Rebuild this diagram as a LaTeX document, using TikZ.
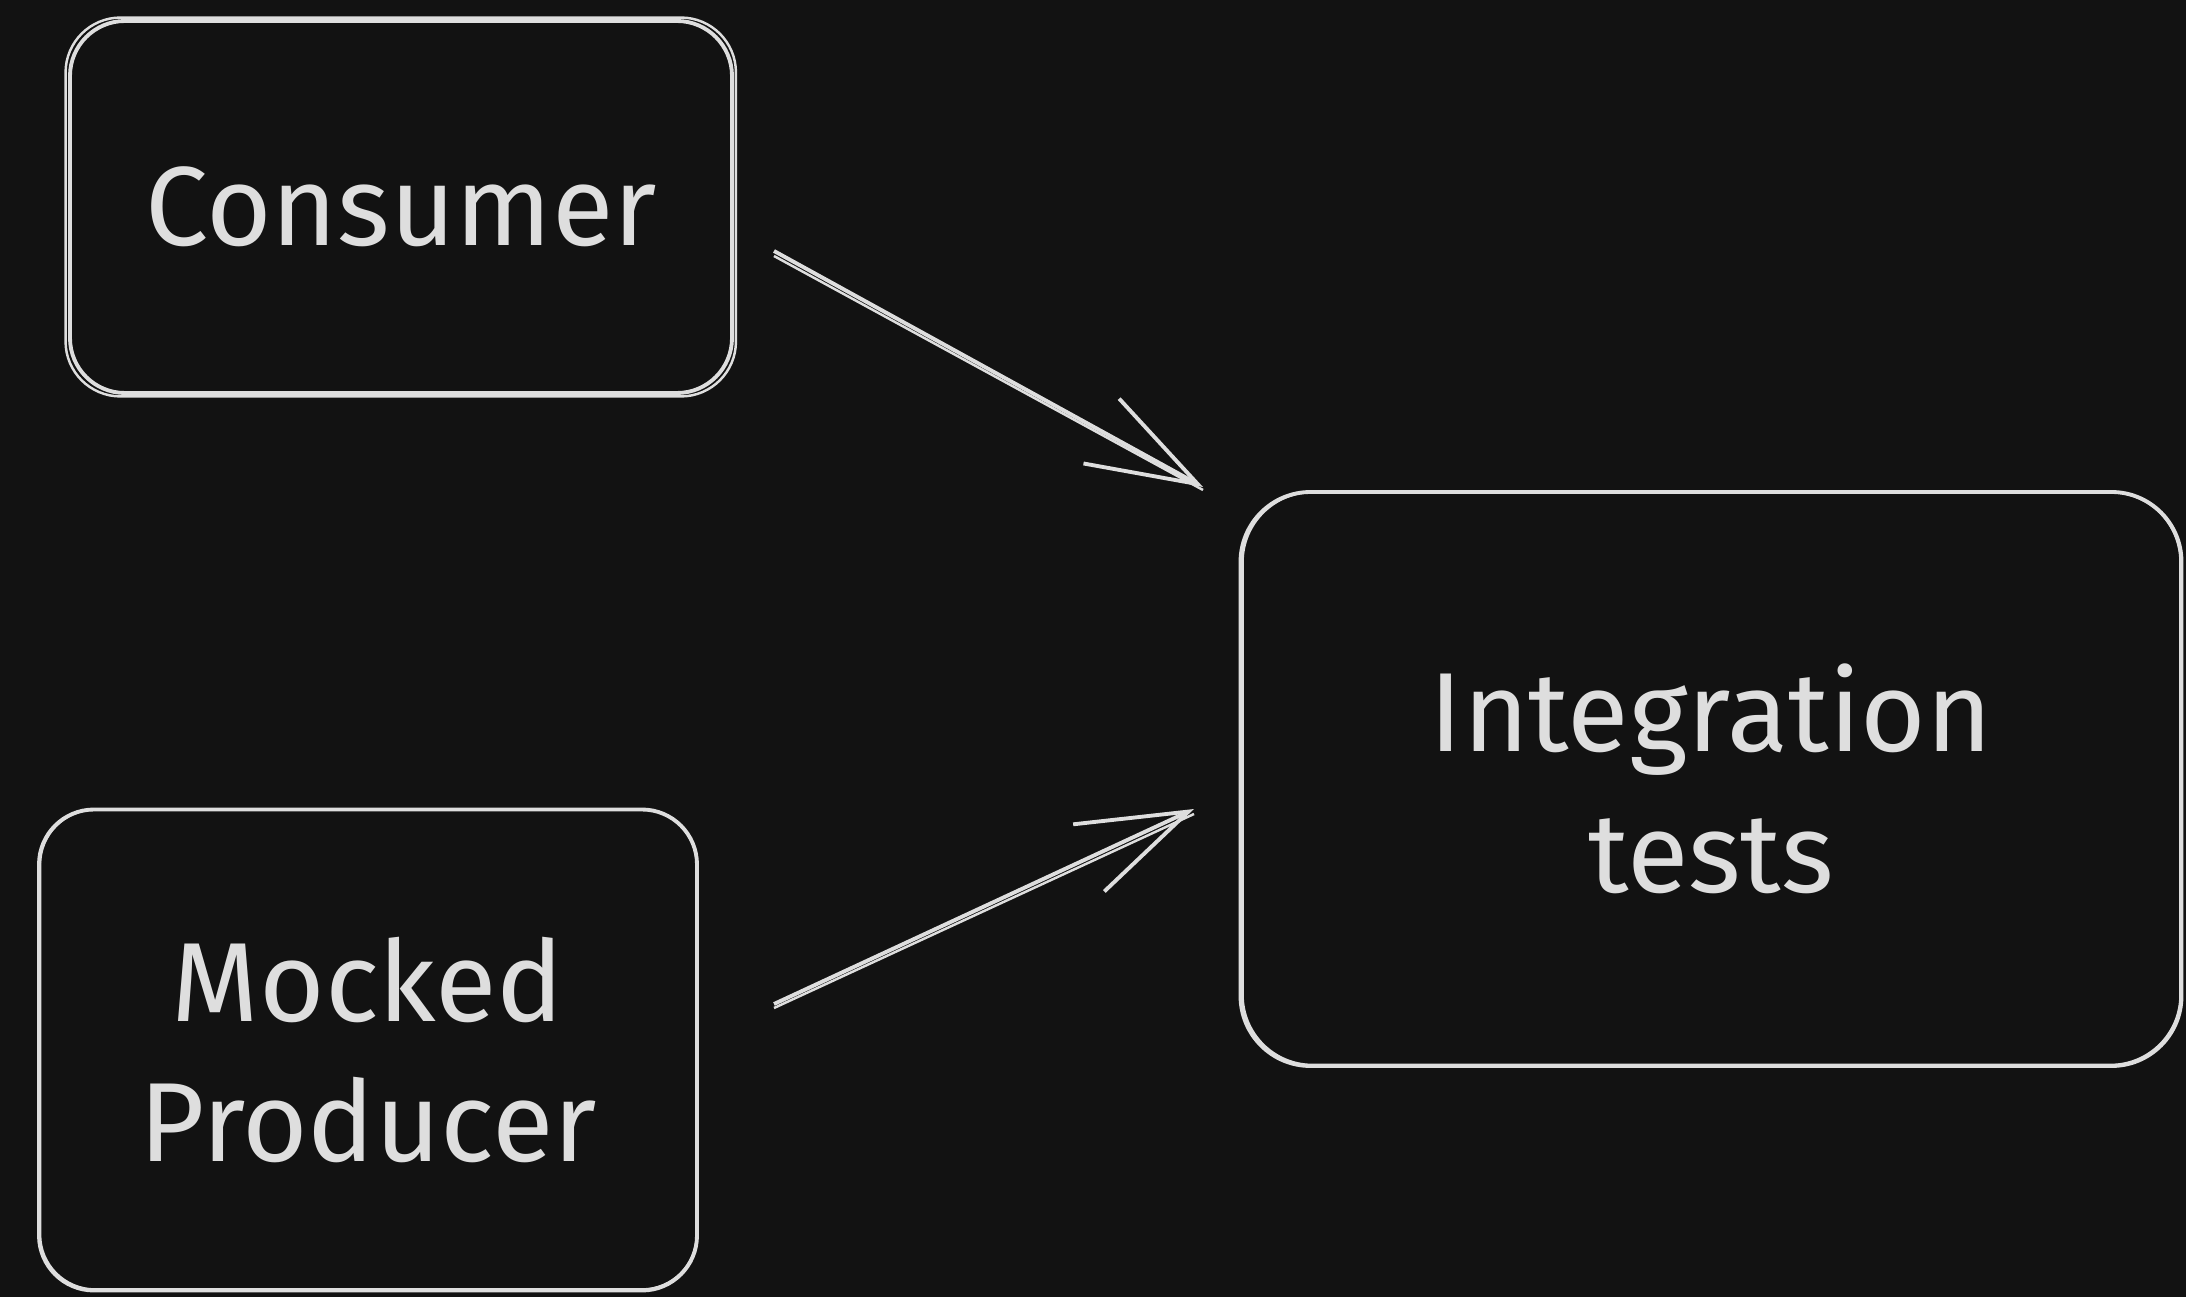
\documentclass[tikz,border=0pt]{standalone}
\usepackage{fontspec}
\setmainfont{Fira Sans}
\usetikzlibrary{arrows.meta}
\definecolor{bgdark}{HTML}{121212}
\definecolor{chalk}{HTML}{DEDEDE}
\tikzset{
  box/.style={draw=chalk, line width=1.1pt, rounded corners=0.55cm, align=center,
    text=chalk, font=\fontsize{32}{40}\selectfont},
  sketch/.style={draw=chalk, line width=0.7pt, rounded corners=0.55cm},
  arrow/.style={draw=chalk, line width=1.1pt, -{Straight Barb[length=11mm, width=7.4mm, line width=1.1pt]}},
}
\begin{document}
\begin{tikzpicture}
\fill [bgdark] (0,0) rectangle (21.86,-12.97);
\useasboundingbox (0,0) rectangle (21.86,-12.97);
\node [box, minimum width=6.62cm, minimum height=3.72cm] (consumer) at (4.01,-2.07) {Consumer};
\node [box, minimum width=6.58cm, minimum height=4.81cm] (producer) at (3.68,-10.50) {Mocked\\Producer};
\node [box, minimum width=9.41cm, minimum height=5.74cm, rounded corners=0.7cm] (tests) at (17.11,-7.79) {Integration\\tests};
\draw [sketch] ([shift={(-0.025,0.015)}]consumer.north west) rectangle ([shift={(0.02,-0.015)}]consumer.south east);
\draw [sketch] ([shift={(0.03,-0.02)}]producer.north west) rectangle ([shift={(-0.02,0.03)}]producer.south east);
\draw [sketch, rounded corners=0.7cm] ([shift={(0.04,-0.02)}]tests.north west) rectangle ([shift={(-0.03,0.03)}]tests.south east);
\coordinate (c1) at (7.74,-2.51);
\coordinate (c2) at (12.03,-4.87);
\coordinate (p1) at (7.74,-10.04);
\coordinate (p2) at (11.94,-8.09);
\draw [arrow] (c1) -- (c2);
\draw [draw=chalk, line width=0.7pt] ([yshift=-0.05cm]c1) -- ([yshift=-0.03cm]c2);
\draw [arrow] (p1) -- (p2);
\draw [draw=chalk, line width=0.7pt] ([yshift=-0.04cm]p1) -- ([yshift=-0.05cm]p2);
\end{tikzpicture}
\end{document}
